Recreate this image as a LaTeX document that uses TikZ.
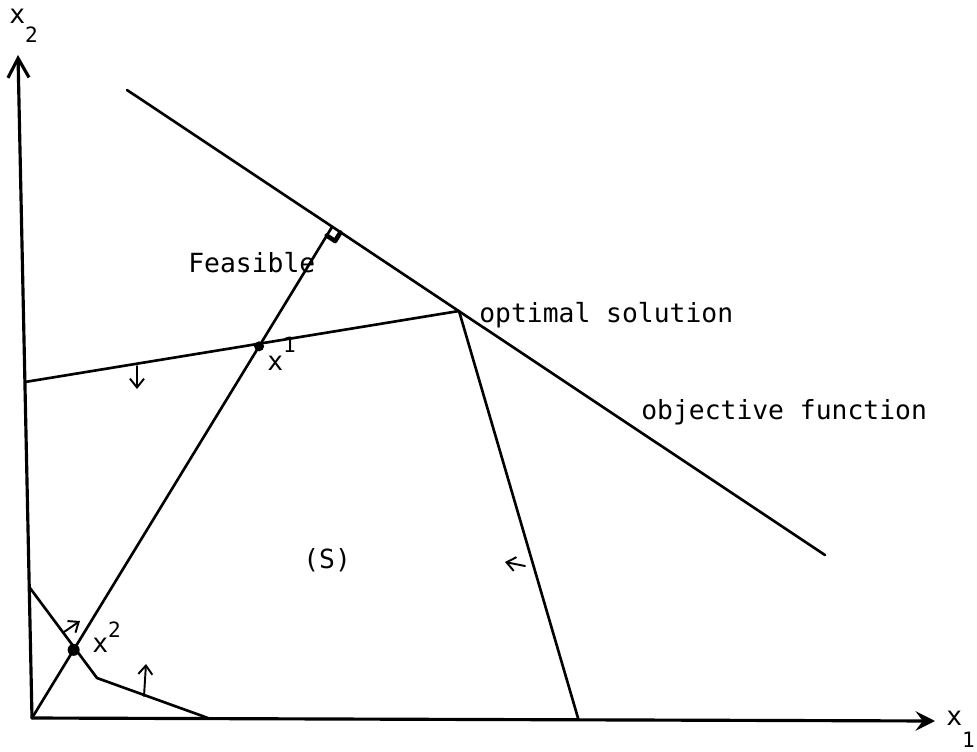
\documentclass[tikz,border=0pt]{standalone}
\usepackage{fontspec}
\usepackage{tikz}
\usetikzlibrary{arrows.meta,calc}
\newfontfamily\typew{DejaVu Sans Mono}
\newcommand\idxfont{\typew\fontsize{12}{14}\selectfont}

\begin{document}
\begin{tikzpicture}[x=0.02cm,y=-0.02cm,
  line width=1.5pt, line cap=round, line join=round,
  lbl/.style={font=\typew\fontsize{15}{18}\selectfont, inner sep=0pt},
  tinyarrow/.style={-{Straight Barb[length=5pt,width=8pt]}, line width=1.1pt}]

\useasboundingbox (0,0) rectangle (977,751);

% Punti principali
\coordinate (O) at (32,718);
\coordinate (X1end) at (935,721);
\coordinate (X2end) at (18,55);
\coordinate (objA) at (127,90);
\coordinate (objB) at (825,555);
\coordinate (opt) at (459,311);
\coordinate (foot) at (332,227);
\coordinate (cA) at (25,382);
\coordinate (cB) at (578,718);
\coordinate (lowA) at (30,588);
\coordinate (lowB) at (97,678);
\coordinate (lowC) at (208,718);
\coordinate (xone) at ($(O)!0.757!(foot)$);
\coordinate (xtwo) at ($(O)!0.1388!(foot)$);

% Assi
\draw[line width=1.8pt, -{Stealth[length=11pt,width=11pt,inset=4pt]}] (O) -- (X1end);
\draw[line width=1.8pt, -{Straight Barb[length=11pt,width=12pt]}] (O) -- (X2end);

% Funzione obiettivo
\draw (objA) -- (objB);

% Vincoli
\draw (cA) -- (opt) -- (cB);
\draw (lowA) -- (lowB) -- (lowC);

% Direzione ammissibile
\draw (O) -- (foot);
\coordinate (ra1) at ($(foot)!0.2cm!(objB)$);
\coordinate (ra2) at ($(foot)!0.2cm!(O)$);
\draw[line width=2.6pt] (ra1) -- ($(ra1)+(ra2)-(foot)$) -- (ra2);

% Punti x1, x2
\fill (xone) circle (5);
\fill (xtwo) circle (6);

% Frecce dei vincoli
\draw[tinyarrow] (137,366) -- (137,389);
\draw[tinyarrow] (525,566) -- (505,562);
\draw[tinyarrow] (64,632) -- (80,621);
\draw[tinyarrow] (144,696) -- (146,664);

% Etichette
\node[lbl, anchor=base west] (lblx2) at (8,23) {x\raisebox{-11pt}{\idxfont 2}};
\node[lbl, anchor=base west] (lblx1) at (945,725) {x\raisebox{-13pt}{\idxfont 1}};
\node[lbl, anchor=base west] (lblxone) at (266,370) {x\raisebox{10pt}{\idxfont 1}};
\node[lbl, anchor=base west] (lblxtwo) at (91,652) {x\raisebox{8pt}{\idxfont 2}};
\node[lbl, anchor=base west] (feas) at (187,272) {Feasible};
\node[lbl, anchor=base west] (optsol) at (478,322) {optimal solution};
\node[lbl, anchor=base west] (objf) at (640,419) {objective function};
\node[lbl, anchor=base west] (region) at (302,568) {(S)};
\end{tikzpicture}
\end{document}
